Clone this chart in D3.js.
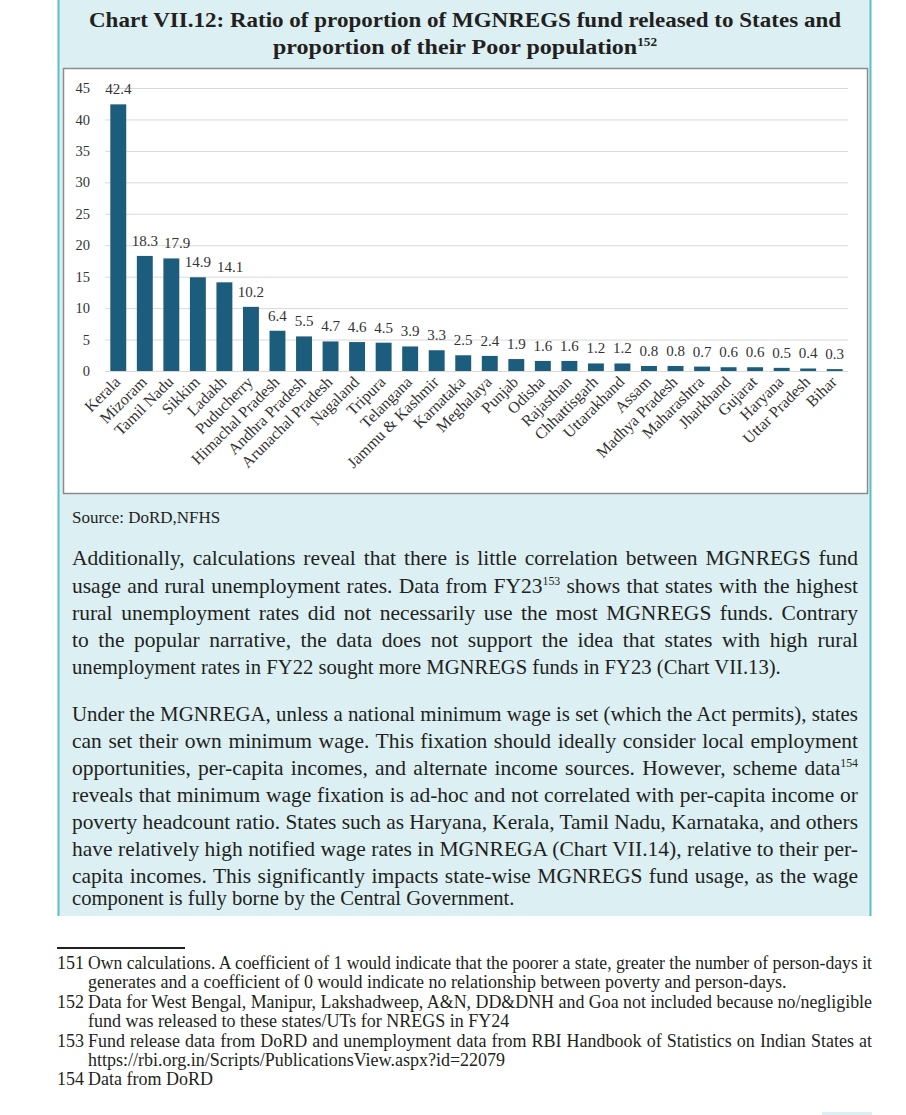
<!DOCTYPE html>
<html>
<head>
<meta charset="utf-8">
<script src="https://cdn.jsdelivr.net/npm/d3@7"></script>
<style>
  html, body { margin: 0; padding: 0; background: #ffffff; }
  svg text { font-family: "Liberation Serif", "Times New Roman", serif; }
</style>
</head>
<body>
<svg id="page" width="906" height="1115"></svg>
<script>
// ---------------- data ----------------
const categories = ["Kerala","Mizoram","Tamil Nadu","Sikkim","Ladakh","Puducherry","Himachal Pradesh",
  "Andhra Pradesh","Arunachal Pradesh","Nagaland","Tripura","Telangana","Jammu & Kashmir","Karnataka",
  "Meghalaya","Punjab","Odisha","Rajasthan","Chhattisgarh","Uttarakhand","Assam","Madhya Pradesh",
  "Maharashtra","Jharkhand","Gujarat","Haryana","Uttar Pradesh","Bihar"];
const values = [42.4,18.3,17.9,14.9,14.1,10.2,6.4,5.5,4.7,4.6,4.5,3.9,3.3,2.5,2.4,1.9,1.6,1.6,1.2,1.2,
  0.8,0.8,0.7,0.6,0.6,0.5,0.4,0.3];
const yTicks = [0,5,10,15,20,25,30,35,40,45];

const titleLines = [
  [{t:"Chart VII.12: Ratio of proportion of MGNREGS fund released to States and"}],
  [{t:"proportion of their Poor population"},{t:"152", sup:true}]
];
const sourceText = "Source: DoRD,NFHS";
const paragraphs = [
  [
    [{t:"Additionally, calculations reveal that there is little correlation between MGNREGS fund"}],
    [{t:"usage and rural unemployment rates. Data from FY23"},{t:"153",sup:true},{t:" shows that states with the highest"}],
    [{t:"rural unemployment rates did not necessarily use the most MGNREGS funds. Contrary"}],
    [{t:"to the popular narrative, the data does not support the idea that states with high rural"}],
    [{t:"unemployment rates in FY22 sought more MGNREGS funds in FY23 (Chart VII.13)."}]
  ],
  [
    [{t:"Under the MGNREGA, unless a national minimum wage is set (which the Act permits), states"}],
    [{t:"can set their own minimum wage. This fixation should ideally consider local employment"}],
    [{t:"opportunities, per-capita incomes, and alternate income sources. However, scheme data"},{t:"154",sup:true}],
    [{t:"reveals that minimum wage fixation is ad-hoc and not correlated with per-capita income or"}],
    [{t:"poverty headcount ratio. States such as Haryana, Kerala, Tamil Nadu, Karnataka, and others"}],
    [{t:"have relatively high notified wage rates in MGNREGA (Chart VII.14), relative to their per-"}],
    [{t:"capita incomes. This significantly impacts state-wise MGNREGS fund usage, as the wage"}],
    [{t:"component is fully borne by the Central Government."}]
  ]
];
const footnotes = [
  {n:"151", lines:["Own calculations. A coefficient of 1 would indicate that the poorer a state, greater the number of person-days it",
                   "generates and a coefficient of 0 would indicate no relationship between poverty and person-days."]},
  {n:"152", lines:["Data for West Bengal, Manipur, Lakshadweep, A&N, DD&DNH and Goa not included because no/negligible",
                   "fund was released to these states/UTs for NREGS in FY24"]},
  {n:"153", lines:["Fund release data from DoRD and unemployment data from RBI Handbook of Statistics on Indian States at",
                   "https://rbi.org.in/Scripts/PublicationsView.aspx?id=22079"]},
  {n:"154", lines:["Data from DoRD"]}
];

// ---------------- drawing ----------------
const svg = d3.select("#page");
const TEXT = "#231f20";

// panel
svg.append("rect").attr("x",58).attr("y",0).attr("width",813).attr("height",916).attr("fill","#dcf0f3");
svg.append("line").attr("x1",58.5).attr("x2",58.5).attr("y1",0).attr("y2",916).attr("stroke","#58c0ca").attr("stroke-width",2);
svg.append("line").attr("x1",870.5).attr("x2",870.5).attr("y1",0).attr("y2",916).attr("stroke","#58c0ca").attr("stroke-width",2);
svg.append("rect").attr("x",822).attr("y",1112).attr("width",50).attr("height",3).attr("fill","#dcf0f3");

function addRich(g, parts, x, y, size, weight, anchor) {
  const t = g.append("text").attr("x",x).attr("y",y).attr("font-size",size)
    .attr("font-weight",weight||"normal").attr("fill",TEXT).attr("text-anchor",anchor||"start");
  parts.forEach(p => {
    if (p.sup) {
      t.append("tspan").attr("font-size", size*0.55).attr("dy", -size*0.38).text(p.t);
    } else {
      const ts = t.append("tspan").text(p.t);
      if (t.selectAll("tspan").size() > 1) ts.attr("dy", size*0.38);
    }
  });
  return t;
}
// fit a line to a width: compress glyphs if too wide, else widen word gaps
function justify(t, width) {
  const w = t.node().getComputedTextLength();
  const txt = t.text();
  const spaces = (txt.match(/ /g) || []).length;
  if (w > width) {
    t.attr("textLength", width).attr("lengthAdjust", "spacingAndGlyphs");
  } else if (spaces > 0) {
    t.attr("word-spacing", (width - w) / spaces);
  }
}
function squeeze(t, factor) {
  const w = t.node().getComputedTextLength();
  t.attr("textLength", w * factor).attr("lengthAdjust", "spacingAndGlyphs");
}

// title
const titleWidths = [752, 384];
titleLines.forEach((ln, i) => {
  const t = addRich(svg, ln, 465, 27 + i*27, 22, "bold", "middle");
  t.attr("textLength", titleWidths[i]).attr("lengthAdjust","spacingAndGlyphs");
});

// chart box
svg.append("rect").attr("x",63.5).attr("y",68.5).attr("width",804).attr("height",425)
  .attr("fill","#ffffff").attr("stroke","#8c8c8c").attr("stroke-width",1.5);

const x = d3.scaleBand().domain(categories).range([105, 848]).paddingInner(0.4).paddingOuter(0.2);
const y = d3.scaleLinear().domain([0,45]).range([371, 88]);

const chart = svg.append("g");
chart.append("g").selectAll("line").data(yTicks).join("line")
  .attr("x1",105).attr("x2",848).attr("y1",d=>y(d)+0.5).attr("y2",d=>y(d)+0.5)
  .attr("stroke","#d9d9d9").attr("stroke-width",1);

const yAxis = d3.axisLeft(y).tickValues(yTicks).tickSize(0).tickPadding(0);
const ya = chart.append("g").attr("transform","translate(90,0)").call(yAxis);
ya.select(".domain").remove();
ya.selectAll("text").attr("font-size",14.5).attr("fill","#333").attr("font-family","Liberation Serif");

chart.append("g").selectAll("rect").data(values).join("rect")
  .attr("x",(d,i)=>x(categories[i])).attr("width",x.bandwidth())
  .attr("y",d=>y(d)).attr("height",d=>y(0)-y(d)).attr("fill","#1c5d7e");

const labels = chart.append("g").selectAll("text").data(values).join("text")
  .attr("x",(d,i)=>x(categories[i])+x.bandwidth()/2).attr("y",d=>y(d)-10)
  .attr("text-anchor","middle").attr("font-size",15).attr("fill","#333").text(d=>d.toFixed(1));
// nudge a label right when it would collide with its neighbour's label
{
  let prev = null;
  labels.each(function() {
    const b = this.getBBox();
    if (prev && Math.abs(b.y - prev.y) < 12 && b.x < prev.x + prev.width + 5) {
      const shift = prev.x + prev.width + 6 - b.x;
      d3.select(this).attr("x", +d3.select(this).attr("x") + shift);
      b.x += shift;
    }
    prev = {x:b.x, y:b.y, width:b.width};
  });
}

const xAxis = d3.axisBottom(x).tickSize(0).tickPadding(0);
const xa = chart.append("g").attr("transform","translate(0,378)").call(xAxis);
xa.select(".domain").remove();
xa.selectAll("text").attr("font-size",16).attr("fill","#333").attr("font-family","Liberation Serif")
  .attr("text-anchor","end").attr("dy","0.35em")
  .attr("transform","translate(-1,1) rotate(-45)");

// source
svg.append("text").attr("x",72).attr("y",523).attr("font-size",17).attr("fill",TEXT).text(sourceText);

// paragraphs
const paraY = [[565,593,620,647,674],[721,748,775,802,829,856,883,905]];
paragraphs.forEach((p, pi) => {
  p.forEach((ln, li) => {
    const t = addRich(svg, ln, 72, paraY[pi][li], 21.5, "normal", "start");
    if (li < p.length - 1) justify(t, 786);
    else squeeze(t, 0.96);
  });
});

// footnotes
svg.append("line").attr("x1",57).attr("x2",185).attr("y1",948).attr("y2",948).attr("stroke","#231f20").attr("stroke-width",2);
let fy = 969;
footnotes.forEach(f => {
  svg.append("text").attr("x",57).attr("y",fy).attr("font-size",18).attr("fill",TEXT).text(f.n);
  f.lines.forEach((l, li) => {
    const t = svg.append("text").attr("x",88).attr("y",fy).attr("font-size",18).attr("fill",TEXT).text(l);
    if (li < f.lines.length - 1) justify(t, 784);
    fy += 19.4;
  });
});
</script>
</body>
</html>
